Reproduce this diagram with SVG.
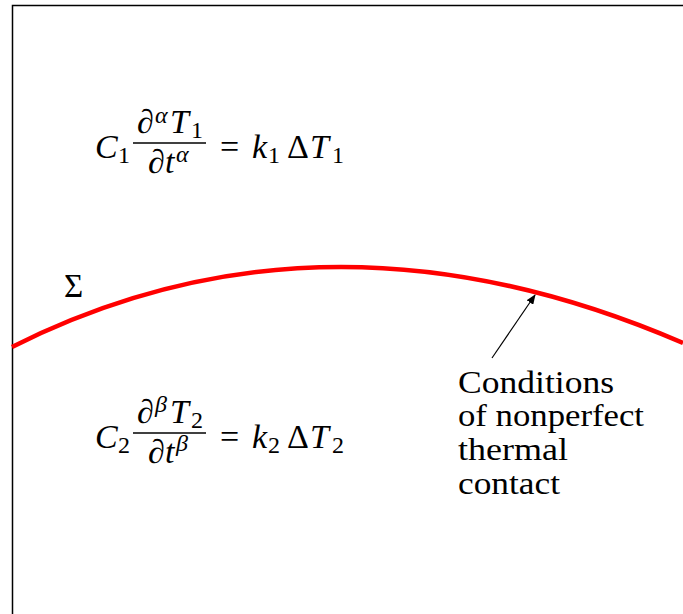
<svg xmlns="http://www.w3.org/2000/svg" width="683" height="614" viewBox="0 0 683 614">
<defs>
<style>
.i{font-style:italic}
</style>
<marker id="ah" markerWidth="10" markerHeight="8" refX="9" refY="4" orient="auto" markerUnits="userSpaceOnUse">
<path d="M0,0 L10,4 L0,8 Z" fill="#000"/>
</marker>
</defs>
<rect width="683" height="614" fill="#fff"/>
<g id="frame">
<path d="M12.5,614 V5.5 H683" fill="none" stroke="#000" stroke-width="1.5"/>
</g>
<g id="interface">
<path d="M12,347 Q326,189 683,343" fill="none" stroke="#ff0000" stroke-width="4.5"/>
<text font-family="Liberation Serif, serif" font-size="33" x="64" y="297">Σ</text>
</g>
<g id="eq1">
<text font-family="Liberation Serif, serif" font-size="34" class="i" x="95" y="158">C</text>
<text font-family="Liberation Serif, serif" font-size="24" x="118" y="163">1</text>
<text font-family="Liberation Serif, serif" font-size="34" x="137" y="133">∂</text>
<text font-family="Liberation Serif, serif" font-size="24" class="i" x="155" y="123">α</text>
<text font-family="Liberation Serif, serif" font-size="34" class="i" x="170" y="133">T</text>
<text font-family="Liberation Serif, serif" font-size="24" x="191" y="138">1</text>
<line x1="133" y1="143" x2="206" y2="143" stroke="#000" stroke-width="1.4"/>
<text font-family="Liberation Serif, serif" font-size="34" x="148" y="173">∂</text>
<text font-family="Liberation Serif, serif" font-size="34" class="i" x="165" y="173">t</text>
<text font-family="Liberation Serif, serif" font-size="24" class="i" x="176" y="162">α</text>
<text font-family="Liberation Serif, serif" font-size="34" x="220" y="158">=</text>
<text font-family="Liberation Serif, serif" font-size="34" class="i" x="252" y="158">k</text>
<text font-family="Liberation Serif, serif" font-size="24" x="268" y="163">1</text>
<text font-family="Liberation Serif, serif" font-size="34" x="287" y="158">Δ</text>
<text font-family="Liberation Serif, serif" font-size="34" class="i" x="310" y="158">T</text>
<text font-family="Liberation Serif, serif" font-size="24" x="332" y="163">1</text>
</g>
<g id="eq2">
<text font-family="Liberation Serif, serif" font-size="34" class="i" x="95" y="448">C</text>
<text font-family="Liberation Serif, serif" font-size="24" x="118" y="453">2</text>
<text font-family="Liberation Serif, serif" font-size="34" x="137" y="423">∂</text>
<text font-family="Liberation Serif, serif" font-size="24" class="i" x="155" y="412">β</text>
<text font-family="Liberation Serif, serif" font-size="34" class="i" x="170" y="423">T</text>
<text font-family="Liberation Serif, serif" font-size="24" x="191" y="428">2</text>
<line x1="133" y1="433" x2="206" y2="433" stroke="#000" stroke-width="1.4"/>
<text font-family="Liberation Serif, serif" font-size="34" x="148" y="463">∂</text>
<text font-family="Liberation Serif, serif" font-size="34" class="i" x="165" y="463">t</text>
<text font-family="Liberation Serif, serif" font-size="24" class="i" x="176" y="451">β</text>
<text font-family="Liberation Serif, serif" font-size="34" x="220" y="448">=</text>
<text font-family="Liberation Serif, serif" font-size="34" class="i" x="252" y="448">k</text>
<text font-family="Liberation Serif, serif" font-size="24" x="268" y="453">2</text>
<text font-family="Liberation Serif, serif" font-size="34" x="287" y="448">Δ</text>
<text font-family="Liberation Serif, serif" font-size="34" class="i" x="310" y="448">T</text>
<text font-family="Liberation Serif, serif" font-size="24" x="332" y="453">2</text>
</g>
<g id="label">
<text font-family="Liberation Serif, serif" font-size="32" x="458" y="393" textLength="156" lengthAdjust="spacingAndGlyphs">Conditions</text>
<text font-family="Liberation Serif, serif" font-size="32" x="458" y="426" textLength="186" lengthAdjust="spacingAndGlyphs">of nonperfect</text>
<text font-family="Liberation Serif, serif" font-size="32" x="458" y="460" textLength="110" lengthAdjust="spacingAndGlyphs">thermal</text>
<text font-family="Liberation Serif, serif" font-size="32" x="458" y="494" textLength="102" lengthAdjust="spacingAndGlyphs">contact</text>
</g>
<g id="connectors">
<line x1="492" y1="358" x2="535" y2="295" stroke="#000" stroke-width="1.2" marker-end="url(#ah)"/>
</g>
</svg>
